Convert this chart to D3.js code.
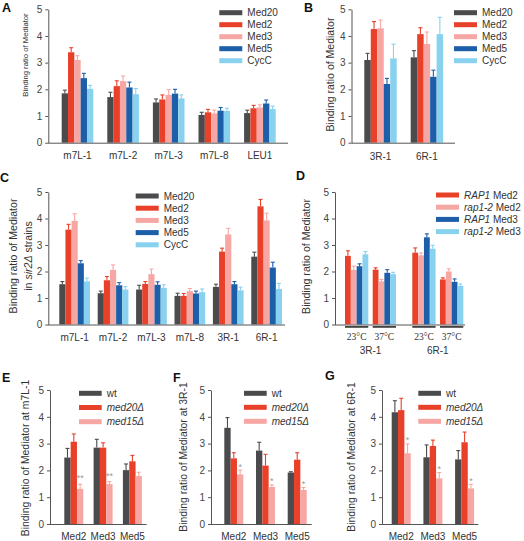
<!DOCTYPE html>
<html><head><meta charset="utf-8">
<script src="https://cdn.jsdelivr.net/npm/d3@7"></script>
<style>body{margin:0;background:#fff} svg text{font-family:"Liberation Sans",Arial,sans-serif}</style>
</head><body><svg id="fig" width="524" height="541"></svg>
<script>
// ---------------- DATA ----------------
const yTickValues = [0,1,2,3,4,5];
const seriesMed = ["Med20","Med2","Med3","Med5","CycC"];
const colorsMed = ["#4b4b4d","#e9402a","#f6a7a4","#1c5ea7","#88d2ef"];

const sitesA = ["m7L-1","m7L-2","m7L-3","m7L-8","LEU1"];
const valuesA = [
  [1.85,1.71,1.51,1.04,1.11],
  [3.39,2.12,1.62,1.14,1.29],
  [3.10,2.31,1.79,1.10,1.32],
  [2.42,2.07,1.84,1.20,1.47],
  [2.02,1.82,1.66,1.19,1.26]];
const errorsA = [
  [0.12,0.18,0.13,0.10,0.11],
  [0.17,0.20,0.17,0.11,0.11],
  [0.16,0.19,0.20,0.12,0.10],
  [0.18,0.20,0.16,0.12,0.13],
  [0.13,0.21,0.13,0.10,0.11]];

const sitesB = ["3R-1","6R-1"];
const valuesB = [[3.10,3.20],[4.26,4.07],[4.29,3.70],[2.20,2.47],[3.16,4.07]];
const errorsB = [[0.25,0.25],[0.28,0.24],[0.31,0.45],[0.21,0.25],[0.53,0.63]];

const sitesC = ["m7L-1","m7L-2","m7L-3","m7L-8","3R-1","6R-1"];
const valuesC = [
  [1.52,1.18,1.32,1.08,1.42,2.56],
  [3.58,1.67,1.53,1.08,2.75,4.46],
  [3.91,2.06,1.90,1.26,3.40,3.93],
  [2.31,1.48,1.50,1.17,1.52,2.15],
  [1.63,1.32,1.38,1.22,1.29,1.34]];
const errorsC = [
  [0.10,0.08,0.16,0.10,0.10,0.17],
  [0.20,0.14,0.09,0.09,0.13,0.26],
  [0.27,0.19,0.19,0.10,0.23,0.27],
  [0.10,0.10,0.11,0.09,0.10,0.20],
  [0.12,0.11,0.12,0.12,0.12,0.21]];

const sitesD = ["3R-1","6R-1"];
const tempsD = ["23°C","37°C"];
const legendD = [["RAP1"," Med2"],["rap1-2"," Med2"],["RAP1"," Med3"],["rap1-2"," Med3"]];
const colorsD = ["#e9402a","#f6a7a4","#1c5ea7","#88d2ef"];
// per series: [3R-1 23°C, 3R-1 37°C, 6R-1 23°C, 6R-1 37°C]
const valuesD = [
  [2.59,2.07,2.71,1.70],
  [2.06,1.63,2.61,2.00],
  [2.20,1.95,3.29,1.61],
  [2.65,1.90,2.86,1.46]];
const errorsD = [
  [0.19,0.07,0.18,0.06],
  [0.14,0.07,0.09,0.10],
  [0.09,0.12,0.13,0.11],
  [0.10,0.07,0.13,0.07]];

const groupsEFG = ["Med2","Med3","Med5"];
const legendEFG = [["","wt"],["med20Δ",""],["med15Δ",""]];
const colorsEFG = ["#4b4b4d","#e9402a","#f6a7a4"];
const valuesE = [[2.48,2.85,2.01],[3.07,2.85,2.34],[1.31,1.49,1.79]];
const errorsE = [[0.34,0.31,0.23],[0.29,0.18,0.22],[0.17,0.09,0.14]];
const sigE = ["**","**",""];
const valuesF = [[3.59,2.74,1.92],[2.45,2.18,2.40],[1.85,1.38,1.27]];
const errorsF = [[0.38,0.31,0.03],[0.21,0.42,0.26],[0.16,0.08,0.09]];
const sigF = ["*","*","*"];
const valuesG = [[4.17,2.49,2.41],[4.25,2.91,3.05],[2.64,1.70,1.33]];
const errorsG = [[0.43,0.46,0.33],[0.44,0.22,0.38],[0.35,0.22,0.15]];
const sigG = ["*","*","*"];

// ---------------- DRAWING ----------------
const svg = d3.select("#fig");
const AX = "#555", TX = "#333";

function yAxis(g, y, axisX, axisEnd) {
  const ax = g.append("g").attr("transform", `translate(${axisX},0)`)
    .call(d3.axisLeft(y).tickValues(yTickValues).tickFormat(d3.format("d"))
      .tickSize(3).tickPadding(3).tickSizeOuter(0));
  ax.selectAll("path,line").attr("stroke", AX);
  ax.selectAll("text").attr("fill", "#444").style("font-size", "10px")
    .style("font-family", '"Liberation Sans",Arial,sans-serif');
  g.append("line").attr("x1", axisX).attr("x2", axisEnd)
    .attr("y1", y(0) + 0.5).attr("y2", y(0) + 0.5).attr("stroke", AX);
}

function yLabel(g, cx, cy, size, lines) {
  lines.forEach((ln, i) => {
    const t = g.append("text")
      .attr("transform", `translate(${cx[i]},${cy}) rotate(-90)`)
      .attr("text-anchor", "middle").attr("dy", "0.35em")
      .attr("fill", TX).style("font-size", size + "px");
    ln.forEach(seg => t.append("tspan").text(seg[0]).style("font-style", seg[1] ? "italic" : "normal"));
  });
}

function legend(g, x, y0, dy, labels, colors, swW) {
  labels.forEach((lab, i) => {
    const yy = y0 + i * dy;
    g.append("rect").attr("x", x).attr("y", yy - 2.5).attr("width", swW).attr("height", 5).attr("fill", colors[i]);
    const t = g.append("text").attr("x", x + swW + 5).attr("y", yy + 3.6)
      .attr("fill", TX).style("font-size", "10px");
    t.append("tspan").text(lab[0]).style("font-style", "italic");
    t.append("tspan").text(lab[1]);
  });
}

function bar(g, x, w, y, v, e, color) {
  g.append("rect").attr("x", x).attr("y", y(v)).attr("width", w)
    .attr("height", y(0) - y(v)).attr("fill", color);
  const cx = x + w / 2;
  g.append("line").attr("x1", cx).attr("x2", cx).attr("y1", y(v)).attr("y2", y(v + e))
    .attr("stroke", color).attr("stroke-width", 1.1);
  g.append("line").attr("x1", cx - 2).attr("x2", cx + 2).attr("y1", y(v + e)).attr("y2", y(v + e))
    .attr("stroke", color).attr("stroke-width", 1.1);
}

function letter(txt, x, y) {
  svg.append("text").attr("x", x).attr("y", y).text(txt)
    .style("font-size", "12.5px").style("font-weight", "bold").attr("fill", "#111");
}

function grouped(o) {
  const g = svg.append("g");
  const y = d3.scaleLinear().domain([0, 5]).range([o.y0, o.y5]);
  const n = o.groups.length, gap = o.step - o.groupW;
  const x0 = d3.scaleBand().domain(o.groups)
    .range([o.first - gap / 2, o.first - gap / 2 + n * o.step])
    .paddingInner(gap / o.step).paddingOuter(gap / o.step / 2);
  const x1 = d3.scaleBand().domain(o.series).range([0, x0.bandwidth()]);
  o.series.forEach((s, si) => {
    o.groups.forEach((gr, gi) => {
      bar(g, x0(gr) + x1(s), x1.bandwidth(), y, o.values[si][gi], o.errors[si][gi], o.colors[si]);
    });
  });
  if (o.sig) {
    const last = o.series.length - 1;
    o.groups.forEach((gr, gi) => {
      if (!o.sig[gi]) return;
      const v = o.values[last][gi] + o.errors[last][gi];
      g.append("text").attr("x", x0(gr) + x1(o.series[last]) + x1.bandwidth() / 2)
        .attr("y", y(v) - o.sigLift).attr("text-anchor", "middle").attr("fill", "#9a9a9a")
        .style("font-size", "9px").text(o.sig[gi]);
    });
  }
  yAxis(g, y, o.axisX, o.axisEnd);
  o.groups.forEach(gr => {
    g.append("text").attr("x", x0(gr) + x0.bandwidth() / 2).attr("y", o.labelY)
      .attr("text-anchor", "middle").attr("fill", TX).style("font-size", "10px").text(gr);
  });
  return g;
}

// Panel A
letter("A", 2, 12);
const gA = grouped({groups: sitesA, series: seriesMed, values: valuesA, errors: errorsA, colors: colorsMed,
  y0: 142.7, y5: 9.3, axisX: 48.3, axisEnd: 288, first: 61.7, step: 45.6, groupW: 31.6, labelY: 159});
yLabel(gA, [25], 55, 7.7, [[["Binding ratio of Mediator", false]]]);
legend(gA, 219.3, 12.7, 12, seriesMed.map(s => ["", s]), colorsMed, 23);

// Panel B
letter("B", 304, 12);
const gB = grouped({groups: sitesB, series: seriesMed, values: valuesB, errors: errorsB, colors: colorsMed,
  y0: 142.7, y5: 9.3, axisX: 351.5, axisEnd: 455, first: 364.3, step: 46.4, groupW: 32.4, labelY: 160});
yLabel(gB, [330], 74.5, 10.5, [[["Binding ratio of Mediator", false]]]);
legend(gB, 454, 12.7, 12, seriesMed.map(s => ["", s]), colorsMed, 23);

// Panel C
letter("C", 0, 182);
const gC = grouped({groups: sitesC, series: seriesMed, values: valuesC, errors: errorsC, colors: colorsMed,
  y0: 324.5, y5: 192, axisX: 48.3, axisEnd: 285, first: 59.3, step: 38.4, groupW: 30.7, labelY: 341});
yLabel(gC, [13.5, 28], 256, 10.6, [[["Binding ratio of Mediator", false]],
  [["in ", false], ["sir2Δ", true], [" strains", false]]]);
legend(gC, 135.7, 196, 12.2, seriesMed.map(s => ["", s]), colorsMed, 23);

// Panel D
letter("D", 296, 180);
(function () {
  const g = svg.append("g");
  const y = d3.scaleLinear().domain([0, 5]).range([324.5, 192]);
  const first = 345, step = 67.3, siteW = 51, gap = step - siteW;
  const xs = d3.scaleBand().domain(sitesD).range([first - gap / 2, first - gap / 2 + 2 * step])
    .paddingInner(gap / step).paddingOuter(gap / step / 2);
  const xt = d3.scaleBand().domain(tempsD).range([0, xs.bandwidth()]).paddingInner(0.159);
  const xb = d3.scaleBand().domain(d3.range(legendD.length)).range([0, xt.bandwidth()]);
  sitesD.forEach((s, si) => tempsD.forEach((t, ti) => {
    const k = si * 2 + ti, bx = xs(s) + xt(t);
    legendD.forEach((lab, li) => bar(g, bx + xb(li), xb.bandwidth(), y, valuesD[li][k], errorsD[li][k], colorsD[li]));
    g.append("rect").attr("x", bx).attr("y", 326).attr("width", xt.bandwidth()).attr("height", 1.8).attr("fill", "#444");
    g.append("text").attr("x", bx + xt.bandwidth() / 2).attr("y", 340).attr("text-anchor", "middle")
      .attr("fill", TX).style("font-size", "9.5px").style("font-family", '"Liberation Serif","Times New Roman",serif').text(t);
  }));
  sitesD.forEach(s => g.append("text").attr("x", xs(s) + xs.bandwidth() / 2).attr("y", 354)
    .attr("text-anchor", "middle").attr("fill", TX).style("font-size", "10px").text(s));
  yAxis(g, y, 335, 465);
  yLabel(g, [306.7], 256.5, 10.6, [[["Binding ratio of Mediator", false]]]);
  legend(g, 436, 195, 12.2, legendD, colorsD, 23);
})();

// Panels E, F, G
letter("E", 2, 382);
const gE = grouped({groups: groupsEFG, series: ["wt","med20","med15"], values: valuesE, errors: errorsE, colors: colorsEFG, sig: sigE, sigLift: 3,
  y0: 524, y5: 390, axisX: 50, axisEnd: 146.7, first: 64.3, step: 29.3, groupW: 19, labelY: 540});
yLabel(gE, [25], 458, 10.4, [[["Binding ratio of Mediator at m7L-1", false]]]);
legend(gE, 79, 393.3, 14.2, legendEFG, colorsEFG, 22.7);

letter("F", 173, 382);
const gF = grouped({groups: groupsEFG, series: ["wt","med20","med15"], values: valuesF, errors: errorsF, colors: colorsEFG, sig: sigF, sigLift: 0.5,
  y0: 524, y5: 390, axisX: 211, axisEnd: 311.7, first: 224.3, step: 31.7, groupW: 19, labelY: 540});
yLabel(gF, [183.8], 457, 10.4, [[["Binding ratio of Mediator at 3R-1", false]]]);
legend(gF, 244, 393.3, 14, legendEFG, colorsEFG, 22.7);

letter("G", 325, 380);
const gG = grouped({groups: groupsEFG, series: ["wt","med20","med15"], values: valuesG, errors: errorsG, colors: colorsEFG, sig: sigG, sigLift: 0.5,
  y0: 524, y5: 390, axisX: 382, axisEnd: 478.3, first: 391.7, step: 31.7, groupW: 19, labelY: 540});
yLabel(gG, [351], 457, 10.4, [[["Binding ratio of Mediator at 6R-1", false]]]);
legend(gG, 418.3, 393.3, 14, legendEFG, colorsEFG, 22.7);
</script></body></html>
